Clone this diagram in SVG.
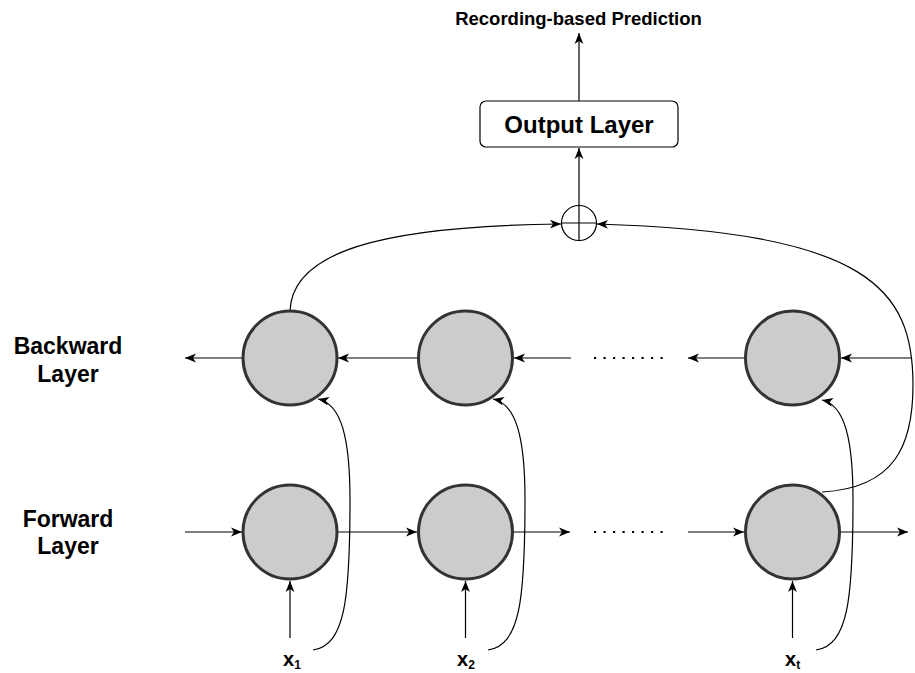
<svg xmlns="http://www.w3.org/2000/svg" width="915" height="673" viewBox="0 0 915 673">
  <style>
    .cell { fill: #cccccc; stroke: #333333; stroke-width: 3; }
    .edge { fill: none; stroke: #000000; stroke-width: 1.2; }
    .arr { marker-end: url(#head); }
    .dots { fill: none; stroke: #000000; stroke-width: 2.2; stroke-dasharray: 2.2 7.3; }
    .lbl { font-family: "Liberation Sans", Arial, sans-serif; font-weight: bold; fill: #000000; }
  </style>
  <defs>
    <marker id="head" viewBox="0 0 12 10" refX="11" refY="5" markerWidth="12" markerHeight="10" markerUnits="userSpaceOnUse" orient="auto">
      <path d="M0,0.6 L11,5 L0,9.4 L3,5 Z" fill="#000000"/>
    </marker>
  </defs>
  <rect width="915" height="673" fill="#ffffff"/>

  <!-- side labels -->
  <g id="label-backward">
    <text class="lbl" x="68" y="354" font-size="23" text-anchor="middle">Backward</text>
    <text class="lbl" x="68" y="382" font-size="23" text-anchor="middle">Layer</text>
  </g>
  <g id="label-forward">
    <text class="lbl" x="68" y="527" font-size="23" text-anchor="middle">Forward</text>
    <text class="lbl" x="68" y="554" font-size="23" text-anchor="middle">Layer</text>
  </g>

  <!-- connectors -->
  <g id="connectors">
    <!-- backward chain (right to left) -->
    <line class="edge arr" x1="243" y1="358" x2="185" y2="358"/>
    <line class="edge arr" x1="418" y1="358" x2="338" y2="358"/>
    <line class="edge arr" x1="571" y1="358" x2="514" y2="358"/>
    <line class="edge arr" x1="745" y1="358" x2="688" y2="358"/>
    <line class="edge arr" x1="911" y1="358" x2="841" y2="358"/>
    <!-- forward chain (left to right) -->
    <line class="edge arr" x1="185" y1="532" x2="242" y2="532"/>
    <line class="edge arr" x1="338" y1="532" x2="417" y2="532"/>
    <line class="edge arr" x1="514" y1="532" x2="570" y2="532"/>
    <line class="edge arr" x1="688" y1="532" x2="744" y2="532"/>
    <line class="edge arr" x1="841" y1="532" x2="908" y2="532"/>
    <!-- ellipsis between the later steps -->
    <line class="dots" x1="594" y1="358" x2="668" y2="358"/>
    <line class="dots" x1="594" y1="532" x2="668" y2="532"/>
    <!-- inputs into forward cells -->
    <line class="edge arr" x1="290" y1="638" x2="290" y2="581"/>
    <line class="edge arr" x1="465.5" y1="638" x2="465.5" y2="581"/>
    <line class="edge arr" x1="792.5" y1="638" x2="792.5" y2="581"/>
    <!-- inputs into backward cells -->
    <path class="edge arr" d="M313,650 C345,645 350,600 350,500 C350,440 342,404 318,399"/>
    <path class="edge arr" d="M488,650 C520,645 525,600 525,500 C525,440 517,404 493,399"/>
    <path class="edge arr" d="M816,650 C848,645 853,600 853,500 C853,440 845,405 822,400"/>
    <!-- merge into the sum node -->
    <path class="edge arr" d="M290,311 C292,252 380,226 561,224"/>
    <path class="edge arr" d="M822,492 C895,488 913,445 913,385 C913,290 870,232 597,224"/>
    <!-- sum to output layer to prediction -->
    <line class="edge arr" x1="579" y1="205.5" x2="579" y2="148"/>
    <line class="edge arr" x1="579" y1="101" x2="579" y2="33"/>
  </g>

  <!-- backward cells -->
  <g id="b1"><circle class="cell" cx="290" cy="358" r="47"/></g>
  <g id="b2"><circle class="cell" cx="465.5" cy="358" r="47"/></g>
  <g id="bt"><circle class="cell" cx="792.5" cy="358" r="47"/></g>

  <!-- forward cells -->
  <g id="f1"><circle class="cell" cx="290" cy="532" r="47"/></g>
  <g id="f2"><circle class="cell" cx="465.5" cy="532" r="47"/></g>
  <g id="ft"><circle class="cell" cx="792.5" cy="532" r="47"/></g>

  <!-- sum node -->
  <g id="sum">
    <circle cx="579" cy="223" r="17.5" fill="#ffffff" stroke="#000000" stroke-width="1.2"/>
    <line class="edge" x1="579" y1="205.5" x2="579" y2="240.5"/>
    <line class="edge" x1="561.5" y1="223" x2="596.5" y2="223"/>
  </g>

  <!-- output layer -->
  <g id="output">
    <rect x="480" y="101" width="198" height="46" rx="6" ry="6" fill="#ffffff" stroke="#000000" stroke-width="1.2"/>
    <text class="lbl" x="579" y="133" font-size="24" text-anchor="middle">Output Layer</text>
  </g>

  <!-- prediction -->
  <g id="prediction">
    <text class="lbl" x="578.5" y="25" font-size="18.5" text-anchor="middle">Recording-based Prediction</text>
  </g>

  <!-- input labels -->
  <g id="x1"><text class="lbl" x="283" y="666" font-size="20">x<tspan font-size="12" dy="3">1</tspan></text></g>
  <g id="x2"><text class="lbl" x="457" y="666" font-size="20">x<tspan font-size="12" dy="3">2</tspan></text></g>
  <g id="xt"><text class="lbl" x="785" y="666" font-size="20">x<tspan font-size="12" dy="3">t</tspan></text></g>
</svg>
